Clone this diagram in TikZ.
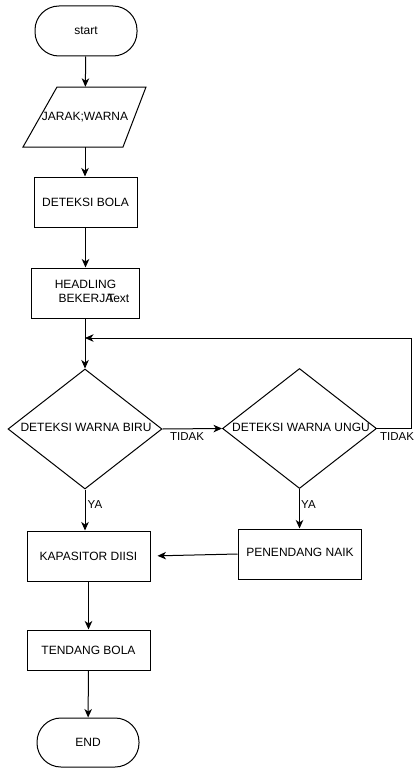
\documentclass[tikz,border=0pt]{standalone}
\usepackage{fontspec}
\setmainfont{Liberation Sans}
\usetikzlibrary{shapes.geometric,arrows.meta}
\begin{document}
\begin{tikzpicture}[x=1pt,y=-1pt,
  every node/.style={font=\fontsize{12}{14}\selectfont},
  box/.style={draw,line width=1pt,inner sep=0pt},
  term/.style={box,rounded corners=24pt},
  dia/.style={draw,line width=1pt,diamond,inner sep=0pt,minimum width=154pt,minimum height=120pt},
  arr/.style={line width=1pt,-{Stealth[length=8.5pt,width=7.5pt,inset=2.5pt]}},
  lbl/.style={inner sep=0pt,font=\fontsize{11.5}{13}\selectfont}]
\useasboundingbox (0,0) rectangle (413,768);
\node[term,minimum width=102pt,minimum height=50pt] (start) at (86,31) {start};
\draw[line width=1pt] (57,87) -- (146,87) -- (123,147) -- (23,147) -- cycle;
\node[inner sep=0pt,minimum width=100pt,minimum height=60pt] (io) at (85,117) {JARAK;WARNA};
\node[box,minimum width=103pt,minimum height=50pt] (det) at (85.5,202) {DETEKSI BOLA};
\node[box,minimum width=108pt,minimum height=50pt] (head) at (85,293) {};
\node[inner sep=0pt] at (85.5,284) {HEADLING};
\node[inner sep=0pt,anchor=west] at (58.5,298.5) {BEKERJA};
\node[inner sep=0pt,anchor=east] at (129.5,298.5) {Text};
\coordinate (join) at (85,338);
\coordinate (corner) at (411,338);
\node[dia] (d1) at (85,429) {};
\node[inner sep=0pt] at (86,427) {DETEKSI WARNA BIRU};
\node[dia] (d2) at (299.5,428.5) {};
\node[inner sep=0pt] at (301,427) {DETEKSI WARNA UNGU};
\node[box,minimum width=123pt,minimum height=50pt] (kap) at (88.5,556) {KAPASITOR DIISI};
\node[box,minimum width=123pt,minimum height=50pt] (pen) at (299.5,554) {};
\node[inner sep=0pt] at (300,552) {PENENDANG NAIK};
\node[box,minimum width=123pt,minimum height=40pt] (ten) at (88.5,650) {TENDANG BOLA};
\node[term,minimum width=102pt,minimum height=49pt] (end) at (88,742.5) {END};
\draw[arr] (start) -- (io);
\draw[arr] (io) -- (io |- det.north);
\draw[arr] (det) -- (det |- head.north);
\draw[arr] (head.south) -- (d1.north);
\draw[arr] (d2.east) -| (corner) -- (join);
\draw[arr] (d1.east) -- (d2.west);
\node[lbl] at (187,437) {TIDAK};
\node[lbl,anchor=west] at (380,437) {TIDAK};
\draw[arr] (d1.south) -- (d1.south |- kap.north);
\node[lbl,anchor=west] at (87.5,505) {YA};
\draw[arr] (d2.south) -- (d2.south |- pen.north);
\node[lbl,anchor=west] at (301,505) {YA};
\draw[arr,shorten >=7pt] (pen.west) -- (kap.east);
\draw[arr] (kap) -- (ten);
\draw[arr] (ten) -- (end);
\end{tikzpicture}
\end{document}
